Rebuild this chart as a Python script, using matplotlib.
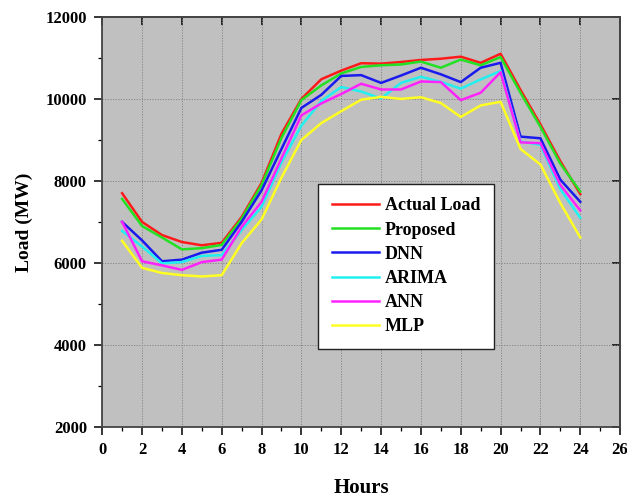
import numpy as np
import matplotlib.pyplot as plt
from matplotlib.ticker import MultipleLocator

# ----------------------------
# Datos: carga horaria real y pronósticos
# ----------------------------
hours = list(range(1, 25))

actual_load = [7700, 7000, 6680, 6510, 6430, 6490, 7120, 7950, 9150, 10000, 10480, 10690,
               10870, 10860, 10900, 10950, 10980, 11030, 10880, 11100, 10220, 9380, 8480, 7680]
proposed = [7560, 6900, 6620, 6330, 6360, 6440, 7080, 7900, 9050, 9970, 10330, 10620,
            10780, 10820, 10840, 10910, 10760, 10960, 10820, 11020, 10150, 9320, 8420, 7740]
dnn = [7000, 6550, 6040, 6080, 6250, 6320, 7000, 7770, 8780, 9780, 10100, 10560,
       10580, 10390, 10570, 10760, 10600, 10410, 10760, 10880, 9080, 9040, 8030, 7490]
arima = [6780, 6400, 5990, 6020, 6170, 6190, 6800, 7370, 8450, 9350, 9950, 10290,
         10180, 10010, 10390, 10540, 10415, 10250, 10475, 10680, 8960, 8880, 7800, 7100]
ann = [7000, 6040, 5940, 5830, 6020, 6080, 6880, 7490, 8550, 9600, 9890, 10120,
       10370, 10230, 10230, 10425, 10410, 9970, 10150, 10650, 8940, 8920, 7900, 7280]
mlp = [6540, 5880, 5755, 5700, 5670, 5700, 6480, 7060, 8080, 9000, 9410, 9700,
       9980, 10050, 10000, 10040, 9900, 9560, 9840, 9930, 8780, 8400, 7460, 6620]

series = [
    ("Actual Load", actual_load, "#ff1a1a"),
    ("Proposed", proposed, "#22e022"),
    ("DNN", dnn, "#1a1aee"),
    ("ARIMA", arima, "#22f0f0"),
    ("ANN", ann, "#ff22ff"),
    ("MLP", mlp, "#ffff22"),
]

x_ticks = list(range(0, 27, 2))
y_ticks = list(range(2000, 12001, 2000))

# ----------------------------
# Figura
# ----------------------------
plt.rcParams['font.family'] = ['Liberation Serif', 'DejaVu Serif']
plt.rcParams['font.weight'] = 'bold'

fig = plt.figure(figsize=(6.27, 4.97), dpi=100)
ax = fig.add_axes([0.163, 0.141, 0.826, 0.825])
ax.set_facecolor("#c0c0c0")

for label, values, color in series:
    ax.plot(hours, values, '-', color=color, lw=1.8, label=label, zorder=3)

ax.set_xlim(0, 26)
ax.set_ylim(2000, 12000)
ax.set_xticks(x_ticks)
ax.set_yticks(y_ticks)
ax.xaxis.set_minor_locator(MultipleLocator(1))
ax.yaxis.set_minor_locator(MultipleLocator(1000))

ax.grid(True, which='major', linestyle=(0, (1.2, 1.5)), color='#858585', linewidth=0.7, zorder=1)

ax.tick_params(which='major', direction='out', length=6, width=1.1, labelsize=12,
               pad=5, top=False, right=False)
ax.tick_params(which='minor', direction='out', length=3, width=0.9, top=False, right=False)

# Marcas interiores en los bordes superior y derecho
ax_top = ax.secondary_xaxis('top')
ax_top.set_xticks(x_ticks)
ax_top.tick_params(direction='in', length=6, width=1.1, labeltop=False)
ax_right = ax.secondary_yaxis('right')
ax_right.set_yticks(y_ticks)
ax_right.tick_params(direction='in', length=6, width=1.1, labelright=False)

for lab in ax.get_xticklabels() + ax.get_yticklabels():
    lab.set_fontweight('bold')

for sp in list(ax.spines.values()) + [ax_top.spines['top'], ax_right.spines['right']]:
    sp.set_linewidth(1.3)
    sp.set_color('#444444')

ax.set_xlabel("Hours", fontsize=15, fontweight='bold', labelpad=14)
ax.set_ylabel("Load (MW)", fontsize=14, fontweight='bold', labelpad=9)

leg = ax.legend(loc='upper left', bbox_to_anchor=(0.417, 0.593), fontsize=13,
                frameon=True, fancybox=False, edgecolor='#222222', framealpha=1,
                handlelength=2.6, handletextpad=0.35, labelspacing=0.4,
                borderpad=0.75, borderaxespad=0)
leg.get_frame().set_linewidth(1.0)
for t in leg.get_texts():
    t.set_fontweight('bold')
leg.set_zorder(5)

plt.savefig("out.png", dpi=100)
plt.close()
